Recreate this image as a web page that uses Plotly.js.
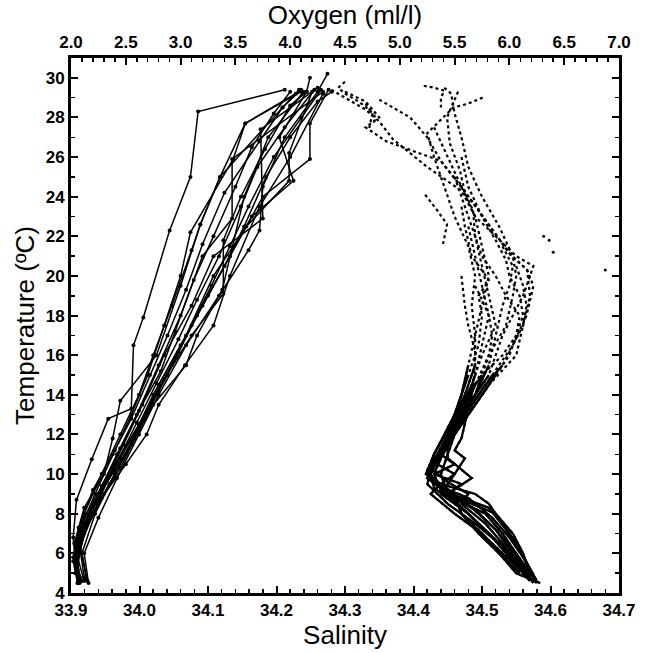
<!DOCTYPE html>
<html>
<head>
<meta charset="utf-8">
<script src="https://cdn.plot.ly/plotly-3.0.1.min.js"></script>
<style>html,body{margin:0;padding:0;background:#fff;}#chart{width:647px;height:653px;}</style>
</head>
<body>
<div id="chart"></div>
<script>
// ---------- Oxygen profiles (top axis, ml/l) vs temperature ----------
const oxT1 = [29.4, 28.3, 25.0, 22.3, 17.9, 16.5, 13.3, 12.8, 10.75, 8.7, 6.8, 5.5, 4.7];
const oxO1 = [3.95, 3.16, 3.09, 2.90, 2.66, 2.57, 2.55, 2.34, 2.19, 2.05, 2.02, 2.04, 2.08];
const oxT2 = [29.3, 27.7, 25.0, 22.6, 19.5, 16.0, 13.7, 11.8, 10.0, 8.3, 6.5, 4.8];
const oxO2 = [4.10, 3.59, 3.36, 3.18, 3.00, 2.78, 2.45, 2.38, 2.30, 2.12, 2.03, 2.08];
const oxT3 = [29.5, 27.4, 22.9, 21.0, 18.5, 16.0, 13.5, 11.5, 9.5, 7.5, 5.8, 4.6];
const oxO3 = [4.25, 3.73, 3.75, 3.30, 3.10, 2.85, 2.65, 2.48, 2.30, 2.12, 2.06, 2.12];
const oxT4 = [29.3, 25.9, 22.9, 21.0, 18.0, 15.5, 13.0, 11.0, 9.0, 7.0, 5.5, 4.5];
const oxO4 = [4.30, 3.47, 3.47, 3.20, 3.00, 2.80, 2.60, 2.42, 2.25, 2.08, 2.04, 2.08];
const oxT5 = [29.4, 27.7, 25.9, 24.0, 21.0, 19.0, 16.5, 14.0, 12.0, 10.0, 8.0, 6.0, 4.7];
const oxO5 = [4.35, 4.18, 4.18, 3.75, 3.45, 3.25, 3.00, 2.75, 2.58, 2.40, 2.22, 2.10, 2.14];
const oxT6 = [29.3, 26.2, 24.8, 22.5, 20.0, 17.0, 14.5, 12.5, 10.5, 8.5, 6.5, 4.6];
const oxO6 = [4.20, 3.99, 3.99, 3.60, 3.30, 3.05, 2.80, 2.62, 2.40, 2.24, 2.08, 2.15];
const oxT7 = [29.3, 28.6, 26.4, 24.0, 21.8, 19.1, 17.0, 14.8, 12.5, 10.8, 8.8, 7.0, 5.2];
const oxO7 = [4.15, 4.00, 3.77, 3.55, 3.39, 3.39, 3.10, 2.85, 2.62, 2.45, 2.25, 2.10, 2.06];
const oxT8 = [29.4, 28.5, 25.0, 22.6, 21.3, 18.5, 16.0, 14.0, 12.0, 10.0, 8.0, 6.0, 4.5];
const oxO8 = [4.10, 3.93, 3.36, 3.18, 3.10, 2.92, 2.75, 2.62, 2.45, 2.28, 2.12, 2.03, 2.06];
const oxT9 = [29.2, 27.7, 25.9, 22.2, 20.0, 17.5, 15.0, 13.0, 11.2, 9.0, 7.2, 5.5, 4.6];
const oxO9 = [4.05, 3.59, 3.48, 3.09, 3.00, 2.85, 2.70, 2.55, 2.40, 2.22, 2.08, 2.04, 2.07];
const oxT10 = [30.2, 29.3, 27.0, 24.5, 22.3, 21.3, 19.0, 16.5, 14.0, 12.0, 9.8, 7.8, 6.0, 4.5];
const oxO10 = [4.34, 4.25, 3.95, 3.75, 3.72, 3.62, 3.35, 3.05, 2.80, 2.62, 2.42, 2.25, 2.12, 2.16];
const oxT11 = [30.0, 29.3, 27.0, 24.8, 23.0, 20.5, 18.0, 15.5, 13.5, 11.5, 9.5, 7.5, 5.5, 4.6];
const oxO11 = [4.18, 4.15, 3.90, 4.03, 3.65, 3.40, 3.15, 2.92, 2.72, 2.55, 2.35, 2.15, 2.05, 2.10];
const oxT12 = [29.4, 28.0, 26.0, 23.5, 21.5, 19.5, 17.5, 15.0, 13.0, 11.0, 9.0, 7.0, 5.0];
const oxO12 = [4.28, 4.10, 3.85, 3.62, 3.45, 3.28, 3.10, 2.88, 2.68, 2.50, 2.30, 2.12, 2.04];
const oxT13 = [29.3, 28.2, 26.5, 24.5, 22.0, 19.8, 17.2, 15.2, 13.2, 11.3, 9.4, 7.6, 5.8, 4.7];
const oxO13 = [4.00, 3.85, 3.65, 3.50, 3.30, 3.12, 2.95, 2.82, 2.62, 2.45, 2.28, 2.10, 2.02, 2.08];
const oxT14 = [29.4, 27.5, 25.5, 23.5, 21.0, 18.8, 16.8, 14.6, 12.6, 10.6, 8.6, 6.8, 5.0];
const oxO14 = [4.22, 3.95, 3.70, 3.55, 3.35, 3.15, 2.98, 2.78, 2.60, 2.42, 2.22, 2.08, 2.05];
const oxT15 = [29.3, 27.0, 24.0, 21.0, 19.3, 17.0, 15.5, 13.5, 11.8, 10.2, 8.3, 6.6, 5.0];
const oxO15 = [4.12, 3.80, 3.58, 3.45, 3.38, 3.15, 3.05, 2.75, 2.58, 2.40, 2.18, 2.05, 2.04];
const oxT16 = [29.2, 26.0, 23.5, 20.0, 17.5, 15.5, 13.5, 12.0, 10.5, 8.8, 7.0, 5.3];
const oxO16 = [4.30, 4.00, 3.72, 3.45, 3.30, 3.04, 2.80, 2.69, 2.50, 2.28, 2.10, 2.05];
const oxT17 = [29.3, 28.8, 27.0, 25.0, 22.5, 20.5, 18.5, 16.2, 14.2, 12.2, 10.3, 8.0, 6.3, 4.8];
const oxO17 = [4.38, 4.25, 4.00, 3.78, 3.58, 3.40, 3.20, 2.98, 2.80, 2.62, 2.45, 2.20, 2.08, 2.12];
const oxT18 = [29.4, 28.5, 26.8, 24.2, 21.6, 19.3, 17.0, 15.0, 12.8, 11.0, 9.2, 7.3, 5.6, 4.5];
const oxO18 = [4.08, 3.93, 3.72, 3.40, 3.20, 3.05, 2.88, 2.72, 2.55, 2.38, 2.20, 2.07, 2.02, 2.06];

// ---------- Salinity profiles (bottom axis) vs temperature ----------
const saT1 = [29.4, 29.0, 28.4, 27.8, 26.9, 25.5, 24.3, 23.0, 21.5, 20.0, 18.5, 17.0, 15.5, 14.0, 12.5, 11.0, 10.0, 9.0, 8.0, 7.0, 6.0, 5.0, 4.6];
const saS1 = [34.28, 34.30, 34.33, 34.35, 34.37, 34.42, 34.47, 34.49, 34.50, 34.51, 34.50, 34.49, 34.48, 34.47, 34.455, 34.44, 34.425, 34.445, 34.505, 34.53, 34.55, 34.57, 34.578];
const saT2 = [29.3, 28.8, 28.0, 27.5, 26.8, 25.8, 24.4, 23.4, 22.3, 21.1, 20.3, 19.0, 17.5, 16.0, 14.5, 13.0, 11.5, 10.5, 9.5, 8.5, 7.5, 6.5, 5.5, 4.7];
const saS2 = [34.30, 34.33, 34.35, 34.33, 34.36, 34.44, 34.472, 34.493, 34.516, 34.541, 34.566, 34.57, 34.56, 34.55, 34.51, 34.48, 34.45, 34.43, 34.42, 34.45, 34.49, 34.525, 34.55, 34.57];
const saT3 = [28.9, 28.5, 28.0, 27.0, 25.8, 24.4, 23.4, 22.3, 21.1, 20.3, 19.5, 18.0, 16.5, 15.0, 13.5, 12.0, 10.8, 10.0, 9.2, 8.3, 7.2, 6.2, 5.2, 4.6];
const saS3 = [34.35, 34.37, 34.395, 34.42, 34.44, 34.472, 34.493, 34.516, 34.541, 34.566, 34.575, 34.565, 34.545, 34.515, 34.485, 34.46, 34.44, 34.43, 34.44, 34.51, 34.535, 34.555, 34.57, 34.58];
const saT4 = [29.3, 28.0, 26.7, 25.3, 24.2, 23.3, 22.0, 20.5, 19.0, 17.5, 16.0, 14.5, 13.0, 11.5, 10.2, 9.5, 8.8, 7.8, 6.8, 5.8, 4.9];
const saS4 = [34.465, 34.449, 34.453, 34.468, 34.475, 34.487, 34.49, 34.50, 34.51, 34.52, 34.50, 34.485, 34.465, 34.445, 34.42, 34.43, 34.48, 34.515, 34.54, 34.56, 34.575];
const saT5 = [29.0, 28.7, 28.5, 27.2, 26.0, 24.5, 23.0, 21.5, 20.0, 18.5, 17.0, 15.5, 14.0, 12.5, 11.0, 10.0, 9.0, 8.0, 7.0, 6.0, 5.0];
const saS5 = [34.501, 34.48, 34.458, 34.42, 34.43, 34.445, 34.46, 34.48, 34.49, 34.485, 34.49, 34.49, 34.475, 34.455, 34.43, 34.42, 34.46, 34.47, 34.50, 34.525, 34.555];
const saT6 = [29.5, 29.2, 28.2, 27.0, 25.5, 24.0, 22.5, 21.0, 20.0, 19.0, 17.5, 16.0, 14.5, 13.0, 11.8, 10.8, 9.8, 9.0, 8.2, 7.2, 6.2, 5.2, 4.8];
const saS6 = [34.445, 34.455, 34.46, 34.47, 34.48, 34.50, 34.525, 34.545, 34.55, 34.545, 34.535, 34.51, 34.49, 34.47, 34.45, 34.45, 34.485, 34.45, 34.49, 34.52, 34.54, 34.56, 34.57];
const saT7 = [24.1, 23.3, 22.6, 22.0, 21.6];
const saS7 = [34.417, 34.435, 34.449, 34.446, 34.443];
const saT8 = [25.0, 24.0, 23.0, 22.0, 21.0, 20.0, 19.0, 18.0, 17.0, 16.0, 15.0, 14.0, 13.0, 12.0, 11.0, 10.0, 9.0, 8.0, 7.0, 6.0, 5.0, 4.5];
const saS8 = [34.46, 34.47, 34.48, 34.49, 34.50, 34.52, 34.535, 34.555, 34.55, 34.54, 34.52, 34.50, 34.48, 34.46, 34.45, 34.44, 34.45, 34.48, 34.51, 34.54, 34.565, 34.575];
const saT9 = [27.5, 26.0, 24.5, 23.0, 22.0, 21.0, 20.5, 20.0, 19.0, 18.0, 17.0, 16.0, 15.0, 14.0, 13.0, 12.0, 11.0, 10.5, 10.0, 9.5, 9.0, 8.0, 7.0, 6.0, 5.0];
const saS9 = [34.43, 34.45, 34.47, 34.49, 34.52, 34.55, 34.575, 34.57, 34.56, 34.545, 34.53, 34.52, 34.51, 34.49, 34.47, 34.455, 34.44, 34.46, 34.43, 34.47, 34.45, 34.52, 34.545, 34.56, 34.57];
const saT10 = [20.0, 18.5, 17.5, 16.2, 14.5, 13.0, 11.8, 11.2, 10.8, 10.0, 9.0, 8.0, 7.0, 6.0, 5.0];
const saS10 = [34.47, 34.475, 34.48, 34.49, 34.488, 34.478, 34.47, 34.46, 34.475, 34.46, 34.44, 34.48, 34.51, 34.535, 34.56];
const saT11 = [22.5, 21.0, 19.5, 18.0, 16.5, 15.0, 13.5, 12.0, 11.0, 10.3, 9.6, 9.0, 8.5, 7.5, 6.5, 5.5, 4.7];
const saS11 = [34.48, 34.49, 34.50, 34.51, 34.50, 34.49, 34.475, 34.455, 34.44, 34.425, 34.45, 34.48, 34.47, 34.505, 34.53, 34.55, 34.57];
const saT12 = [21.5, 20.5, 19.5, 18.5, 17.0, 15.5, 14.0, 12.5, 11.5, 10.5, 10.0, 9.5, 9.0, 8.0, 7.0, 6.0, 5.0, 4.5];
const saS12 = [34.53, 34.545, 34.54, 34.53, 34.52, 34.51, 34.49, 34.465, 34.45, 34.435, 34.46, 34.44, 34.425, 34.46, 34.50, 34.53, 34.56, 34.58];
const saT13 = [23.5, 22.5, 21.0, 19.8, 19.0, 18.0, 16.5, 15.0, 13.5, 12.0, 11.0, 10.0, 9.3, 8.7, 8.0, 7.0, 6.0, 5.0, 4.6];
const saS13 = [34.47, 34.475, 34.485, 34.51, 34.495, 34.50, 34.495, 34.48, 34.465, 34.45, 34.435, 34.425, 34.43, 34.455, 34.48, 34.51, 34.54, 34.56, 34.57];
const saT14 = [20.5, 19.5, 18.5, 17.5, 16.5, 15.5, 14.5, 13.5, 12.5, 11.5, 10.5, 9.8, 9.2, 8.6, 8.0, 7.2, 6.4, 5.6, 4.8];
const saS14 = [34.55, 34.56, 34.565, 34.56, 34.545, 34.53, 34.505, 34.485, 34.465, 34.445, 34.43, 34.42, 34.445, 34.475, 34.495, 34.52, 34.54, 34.555, 34.57];
const saT15 = [26.0, 24.5, 23.0, 21.8, 20.8, 20.0, 19.0, 18.0, 17.0, 16.0, 15.0, 14.0, 13.0, 12.0, 11.0, 10.0, 9.5, 9.0, 8.5, 7.5, 6.5, 5.5, 4.7];
const saS15 = [34.47, 34.48, 34.50, 34.52, 34.535, 34.54, 34.555, 34.56, 34.55, 34.53, 34.50, 34.48, 34.46, 34.445, 34.43, 34.418, 34.44, 34.49, 34.51, 34.53, 34.55, 34.565, 34.578];
const saT16 = [19.5, 18.8, 18.0, 17.0, 16.0, 15.0, 14.0, 13.0, 12.0, 11.0, 10.0, 9.5, 9.0, 8.0, 7.0, 6.0, 5.0, 4.5];
const saS16 = [34.49, 34.50, 34.51, 34.515, 34.51, 34.50, 34.49, 34.47, 34.455, 34.435, 34.42, 34.43, 34.46, 34.47, 34.495, 34.525, 34.55, 34.585];
const saT17 = [29.8, 29.5, 29.2, 28.8, 28.4, 28.0, 27.6];
const saS17 = [34.30, 34.29, 34.30, 34.32, 34.335, 34.345, 34.34];
const saT18 = [28.7, 28.2, 27.4];
const saS18 = [34.33, 34.34, 34.335];
const saT19 = [29.6, 29.5, 29.35, 29.0, 28.5];
const saS19 = [34.415, 34.43, 34.445, 34.44, 34.44];
// isolated salinity dots
const dotT = [22.0, 21.8, 21.2, 20.3];
const dotS = [34.59, 34.598, 34.604, 34.68];

// tick labels
const salTicks = [33.9, 34.0, 34.1, 34.2, 34.3, 34.4, 34.5, 34.6, 34.7];
const oxTicks = [2.0, 2.5, 3.0, 3.5, 4.0, 4.5, 5.0, 5.5, 6.0, 6.5, 7.0];
const tempTicks = [4, 6, 8, 10, 12, 14, 16, 18, 20, 22, 24, 26, 28, 30];

const oxProfiles = [[oxT1,oxO1],[oxT2,oxO2],[oxT3,oxO3],[oxT4,oxO4],[oxT5,oxO5],[oxT6,oxO6],[oxT7,oxO7],[oxT8,oxO8],[oxT9,oxO9],[oxT10,oxO10],[oxT11,oxO11],[oxT12,oxO12],[oxT13,oxO13],[oxT14,oxO14],[oxT15,oxO15],[oxT16,oxO16],[oxT17,oxO17],[oxT18,oxO18]];
const saProfiles = [[saT1,saS1],[saT2,saS2],[saT3,saS3],[saT4,saS4],[saT5,saS5],[saT6,saS6],[saT7,saS7],[saT8,saS8],[saT9,saS9],[saT10,saS10],[saT11,saS11],[saT12,saS12],[saT13,saS13],[saT14,saS14],[saT15,saS15],[saT16,saS16],[saT17,saS17],[saT18,saS18],[saT19,saS19]];

// deep, dense part of the CTD salinity casts is drawn solid (the dots merge there)
const solidBelowT = 15.5;

const traces = [];
saProfiles.forEach(p => {
  traces.push({
    x: p[1], y: p[0], xaxis: 'x', yaxis: 'y', type: 'scatter', mode: 'lines',
    line: {color: '#000', width: 2.2, dash: 'dot'}, showlegend: false, hoverinfo: 'skip'
  });
  const idx = p[0].map((t, i) => i).filter(i => p[0][i] <= solidBelowT);
  if (idx.length > 1) {
    traces.push({
      x: idx.map(i => p[1][i]), y: idx.map(i => p[0][i]), xaxis: 'x', yaxis: 'y', type: 'scatter', mode: 'lines',
      line: {color: '#000', width: 2.3}, showlegend: false, hoverinfo: 'skip'
    });
  }
});
traces.push({x: dotS, y: dotT, xaxis: 'x', yaxis: 'y', type: 'scatter', mode: 'markers',
  marker: {color: '#000', size: 3}, showlegend: false});
oxProfiles.forEach(p => traces.push({
  x: p[1], y: p[0], xaxis: 'x2', yaxis: 'y', type: 'scatter', mode: 'lines+markers',
  line: {color: '#000', width: 1.5}, marker: {color: '#000', size: 4}, showlegend: false, hoverinfo: 'skip'
}));

const tickFont = {family: 'Liberation Sans, Arial, sans-serif', size: 17, color: '#000', weight: 'bold'};
const titleFont = {family: 'Liberation Sans, Arial, sans-serif', size: 26, color: '#000'};

const layout = {
  width: 647, height: 653,
  margin: {l: 71, r: 28, t: 58, b: 60, pad: 0},
  paper_bgcolor: '#fff', plot_bgcolor: '#fff',
  showlegend: false,
  xaxis: {
    range: [33.9, 34.7], tickvals: salTicks, ticktext: salTicks.map(v => v.toFixed(1)),
    ticks: 'inside', ticklen: 7, tickwidth: 2, tickcolor: '#000',
    minor: {dtick: 0.02, tick0: 33.9, ticks: 'inside', ticklen: 4, tickwidth: 1.5, tickcolor: '#000'},
    showline: true, linewidth: 3, linecolor: '#000', showgrid: false, zeroline: false,
    tickfont: tickFont, ticklabelstandoff: 0,
    title: {text: 'Salinity', font: titleFont, standoff: 2}
  },
  xaxis2: {
    range: [2, 7], overlaying: 'x', side: 'top', anchor: 'y',
    tickvals: oxTicks, ticktext: oxTicks.map(v => v.toFixed(1)),
    ticks: 'inside', ticklen: 7, tickwidth: 2, tickcolor: '#000',
    minor: {dtick: 0.1, tick0: 2, ticks: 'inside', ticklen: 4, tickwidth: 1.5, tickcolor: '#000'},
    showline: true, linewidth: 3, linecolor: '#000', showgrid: false, zeroline: false,
    tickfont: tickFont,
    title: {text: 'Oxygen (ml/l)', font: titleFont, standoff: 2}
  },
  yaxis: {
    range: [4, 31], tickvals: tempTicks,
    ticks: 'inside', ticklen: 7, tickwidth: 2, tickcolor: '#000',
    minor: {dtick: 1, tick0: 4, ticks: 'inside', ticklen: 4, tickwidth: 1.5, tickcolor: '#000'},
    showline: true, linewidth: 3, linecolor: '#000', mirror: 'ticks', showgrid: false, zeroline: false,
    tickfont: tickFont,
    title: {text: 'Temperature (ºC)', font: titleFont, standoff: 4}
  }
};

Plotly.newPlot('chart', traces, layout, {displayModeBar: false, staticPlot: true});
</script>
</body>
</html>
